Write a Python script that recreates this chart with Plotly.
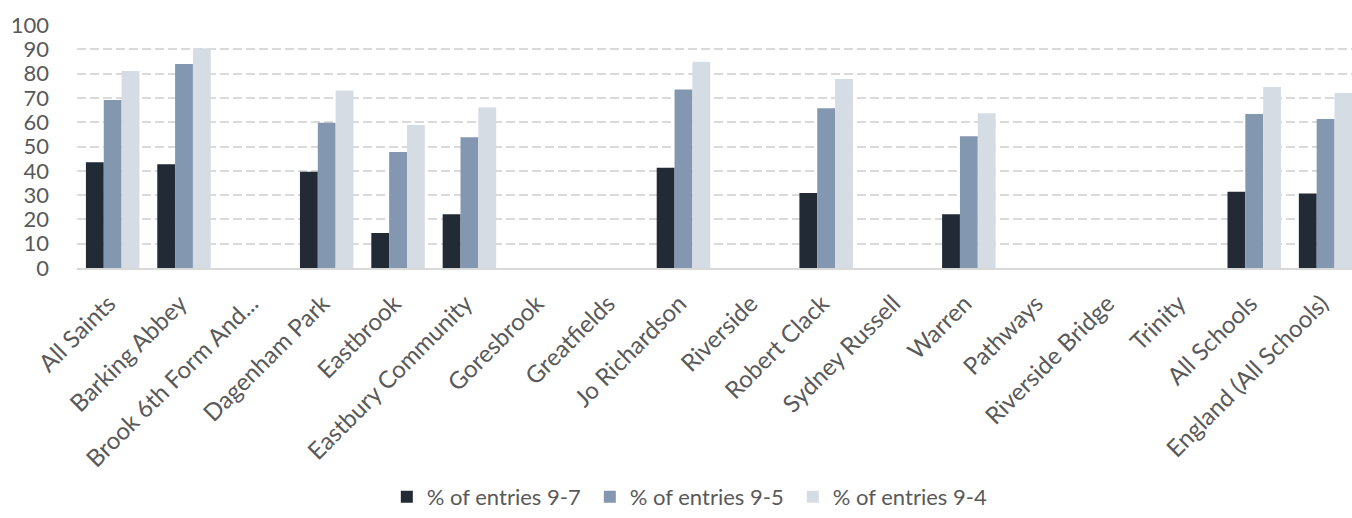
import plotly.graph_objects as go

categories = ["All Saints", "Barking Abbey", "Brook 6th Form And...", "Dagenham Park", "Eastbrook",
              "Eastbury Community", "Goresbrook", "Greatfields", "Jo Richardson", "Riverside",
              "Robert Clack", "Sydney Russell", "Warren", "Pathways", "Riverside Bridge", "Trinity",
              "All Schools", "England (All Schools)"]
entries_9_7 = [43.5, 42.7, None, 39.6, 14.4, 22.1, None, None, 41.3, None, 30.9, None, 22.1, None, None, None, 31.4, 30.7]
entries_9_5 = [69.1, 84.0, None, 59.8, 47.7, 53.8, None, None, 73.5, None, 65.7, None, 54.2, None, None, None, 63.4, 61.3]
entries_9_4 = [81.1, 90.4, None, 73.0, 58.8, 66.0, None, None, 84.9, None, 77.8, None, 63.7, None, None, None, 74.5, 72.0]

series = [("% of entries 9-7", entries_9_7, "#222A35"),
          ("% of entries 9-5", entries_9_5, "#8497B0"),
          ("% of entries 9-4", entries_9_4, "#D6DCE4")]

font_family = "Lato, 'Open Sans', sans-serif"
text_color = "#595959"

fig = go.Figure()
for name, vals, col in series:
    fig.add_trace(go.Bar(x=categories, y=vals, name=name, marker=dict(color=col, line=dict(width=0))))

fig.update_layout(
    width=1352, height=518,
    barmode="group", bargap=0.25, bargroupgap=0,
    plot_bgcolor="white", paper_bgcolor="white",
    margin=dict(l=77, r=0, t=25, b=250),
    font=dict(family=font_family, color=text_color),
    legend=dict(orientation="h", x=0.243, xanchor="left", y=-0.942, yanchor="middle",
                font=dict(size=22, color=text_color), itemwidth=30, traceorder="normal",
                entrywidth=158, entrywidthmode="pixels"),
    showlegend=True,
)
fig.update_xaxes(
    range=[-0.5, 17.37],
    tickangle=-45, tickfont=dict(size=24, color=text_color),
    ticklabelstandoff=10, ticklabelshift=-4,
    showline=True, linecolor="#D9D9D9", linewidth=2, ticks="", showgrid=False,
    automargin=False,
)
fig.update_yaxes(
    range=[0, 100], dtick=10, tick0=0,
    tickfont=dict(size=22, color=text_color),
    ticklabelstandoff=27,
    showgrid=True, gridcolor="#DADADA", gridwidth=1.5, griddash="9px,4px",
    zeroline=False, showline=False, ticks="", automargin=False,
)
fig.write_html("out.html")
